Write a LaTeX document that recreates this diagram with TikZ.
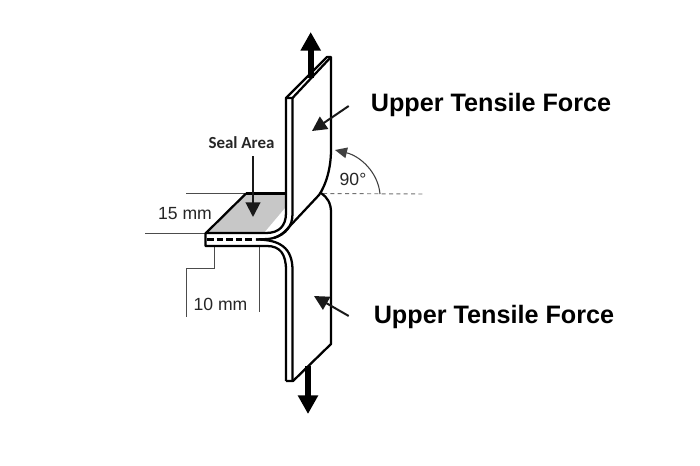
\documentclass[tikz,border=0pt]{standalone}
\usepackage{fontspec}
\setmainfont{Liberation Sans}
\newfontfamily\sealfont{Carlito}
\usetikzlibrary{arrows.meta}
\tikzset{
  sheet/.style={line width=1.7pt,black,line join=round},
  dim/.style={line width=0.7pt,black!70},
  callout/.style={line width=1.5pt,black!90,-{Triangle[length=11pt,width=11pt]}},
  pull/.style={line width=4.6pt,black,-{Triangle[length=14pt,width=14.5pt]}},
  biglabel/.style={font=\bfseries\fontsize{18.9pt}{22pt}\selectfont,inner sep=0pt},
  dimlabel/.style={font=\fontsize{13.2pt}{15pt}\selectfont,inner sep=0pt,black!85}
}
\begin{document}
\begin{tikzpicture}[x=0.75pt,y=-0.75pt]
\useasboundingbox (0,0) rectangle (700,465);
\fill[white] (0,0) rectangle (700,465);
% seal area
\fill[black!22] (206,233) -- (246,193.5) -- (286,193.5) -- (286,213) .. controls (286,226) and (281,233) .. (270,233) -- cycle;
\fill[white] (286,207) -- (286,214) .. controls (285,226) and (280,232) .. (268,233) -- (264,233) -- cycle;
% dimension lines
\draw[dim] (186,193.5) -- (246,193.5);
\draw[dim] (145,233) -- (206,233);
\draw[dim] (214,247) -- (214,268) -- (186,268) -- (186,317);
\draw[dim] (259,247) -- (259,312);
\draw[line width=0.7pt,black!55,dash pattern=on 3pt off 2.5pt] (323,193.5) -- (425,194);
% upper sheet
\draw[sheet] (246,193.5) -- (286,193.5);
\draw[sheet] (206,233) -- (246,193.5);
\draw[sheet] (286,381) -- (286,270) .. controls (286,254) and (280,246) .. (267,246) -- (205.5,246) -- (205.5,233) -- (266,233)
  .. controls (279,233) and (286,226) .. (286,213) -- (286,98) -- (327,57) -- (331,57) -- (331,150)
  .. controls (331,168) and (326,185) .. (319,195) -- (289,227) .. controls (284,233) and (278,238) .. (268,239) -- (256,239.5);
\draw[line width=1.8pt,black,dash pattern=on 5pt off 2.2pt] (207,239.5) -- (252,239.5);
\draw[sheet] (292.5,98) -- (292.5,214) .. controls (292.5,226) and (286,234) .. (274,238);
\draw[sheet] (286,98) -- (292.5,98) -- (331,57);
% lower sheet
\draw[sheet] (256,239.5) .. controls (280,239.5) and (292.5,248) .. (292.5,270) -- (292.5,381);
\draw[sheet] (286,381) -- (293,381) -- (331,344) -- (331,212) .. controls (331,203) and (327,197) .. (321,193);
% arrows
\draw[pull] (310.7,78) -- (310.7,32);
\draw[pull] (308,366) -- (308,414);
\draw[callout] (253,156) -- (253,217);
\draw[callout] (348.7,106) -- (312,131);
\draw[callout] (348.7,316) -- (314,296);
\draw[line width=0.8pt,black!75,-{Triangle[length=9pt,width=8pt]}] (380,194) .. controls (378,172) and (360,156) .. (335,150);
% labels
\node[font=\sealfont\bfseries\fontsize{12.7pt}{14pt}\selectfont,inner sep=0pt,black!85] (seal) at (241.5,143) {Seal Area};
\node[dimlabel] (w15) at (185,213.5) {15 mm};
\node[dimlabel] (w10) at (220.5,304) {10 mm};
\node[dimlabel] (ang) at (353,179.5) {90°};
\node[biglabel] (up) at (491,104.5) {Upper Tensile Force};
\node[biglabel] (lo) at (494,316.5) {Upper Tensile Force};
\end{tikzpicture}
\end{document}
